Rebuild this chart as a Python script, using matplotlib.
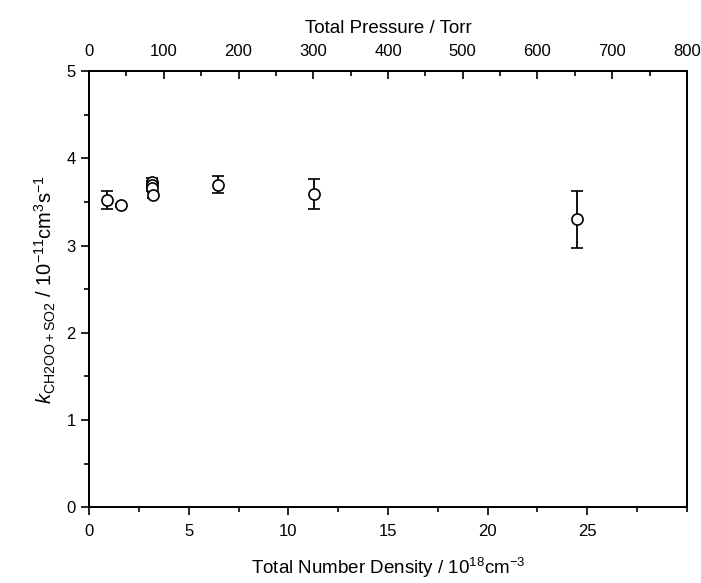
import matplotlib
matplotlib.use("Agg")
import matplotlib.pyplot as plt
from matplotlib.ticker import MultipleLocator

plt.rcParams['font.family'] = ['Liberation Sans', 'DejaVu Sans']
plt.rcParams['mathtext.fontset'] = 'custom'
plt.rcParams['mathtext.rm'] = 'Liberation Sans'
plt.rcParams['mathtext.it'] = 'Liberation Sans:italic'
plt.rcParams['mathtext.default'] = 'regular'

# data: number density (1e18 cm^-3), k (1e-11 cm3 s-1), error
density = [0.9, 1.6, 3.15, 3.15, 3.15, 3.2, 6.45, 11.3, 24.5]
k_val = [3.52, 3.46, 3.73, 3.70, 3.66, 3.58, 3.70, 3.59, 3.30]
k_err = [0.10, 0.02, 0.05, 0.04, 0.03, 0.03, 0.10, 0.17, 0.33]

fig = plt.figure(figsize=(7.01, 5.83), dpi=100)
ax = fig.add_axes([0.127, 0.130, 0.853, 0.748])

ax.errorbar(density, k_val, yerr=k_err, fmt='o', mfc='white', mec='black',
            ecolor='black', ms=8, mew=1.2, elinewidth=1.3, capsize=4, capthick=1.3)

ax.set_xlim(0, 30)
ax.set_ylim(0, 5)
ax.xaxis.set_major_locator(MultipleLocator(5))
ax.xaxis.set_minor_locator(MultipleLocator(2.5))
ax.yaxis.set_major_locator(MultipleLocator(1))
ax.yaxis.set_minor_locator(MultipleLocator(0.5))
ax.set_xticks([0, 5, 10, 15, 20, 25])
ax.tick_params(axis='both', which='major', direction='out', length=6, width=1.2, labelsize=12)
ax.tick_params(axis='x', which='major', pad=6)
ax.tick_params(axis='both', which='minor', direction='out', length=3.5, width=1.2)
ax.tick_params(right=False, top=False)
for s in ax.spines.values():
    s.set_linewidth(1.3)

ax.set_xlabel('Total Number Density / 10$^{18}$cm$^{-3}$', fontsize=13.5, labelpad=12)
ax.set_ylabel('$\\mathit{k}_{\\mathrm{CH2OO+SO2}}$ / 10$^{-11}$cm$^{3}$s$^{-1}$', fontsize=14.5, labelpad=6)

ax2 = ax.twiny()
ax2.set_xlim(0, 800)
ax2.xaxis.set_major_locator(MultipleLocator(100))
ax2.xaxis.set_minor_locator(MultipleLocator(50))
ax2.tick_params(axis='x', which='major', direction='in', length=6, width=1.2, labelsize=12, pad=9)
ax2.tick_params(axis='x', which='minor', direction='in', length=3.5, width=1.2)
ax2.set_xlabel('Total Pressure / Torr', fontsize=13.5, labelpad=8)
for s in ax2.spines.values():
    s.set_linewidth(1.3)

fig.savefig('out.png', dpi=100)
